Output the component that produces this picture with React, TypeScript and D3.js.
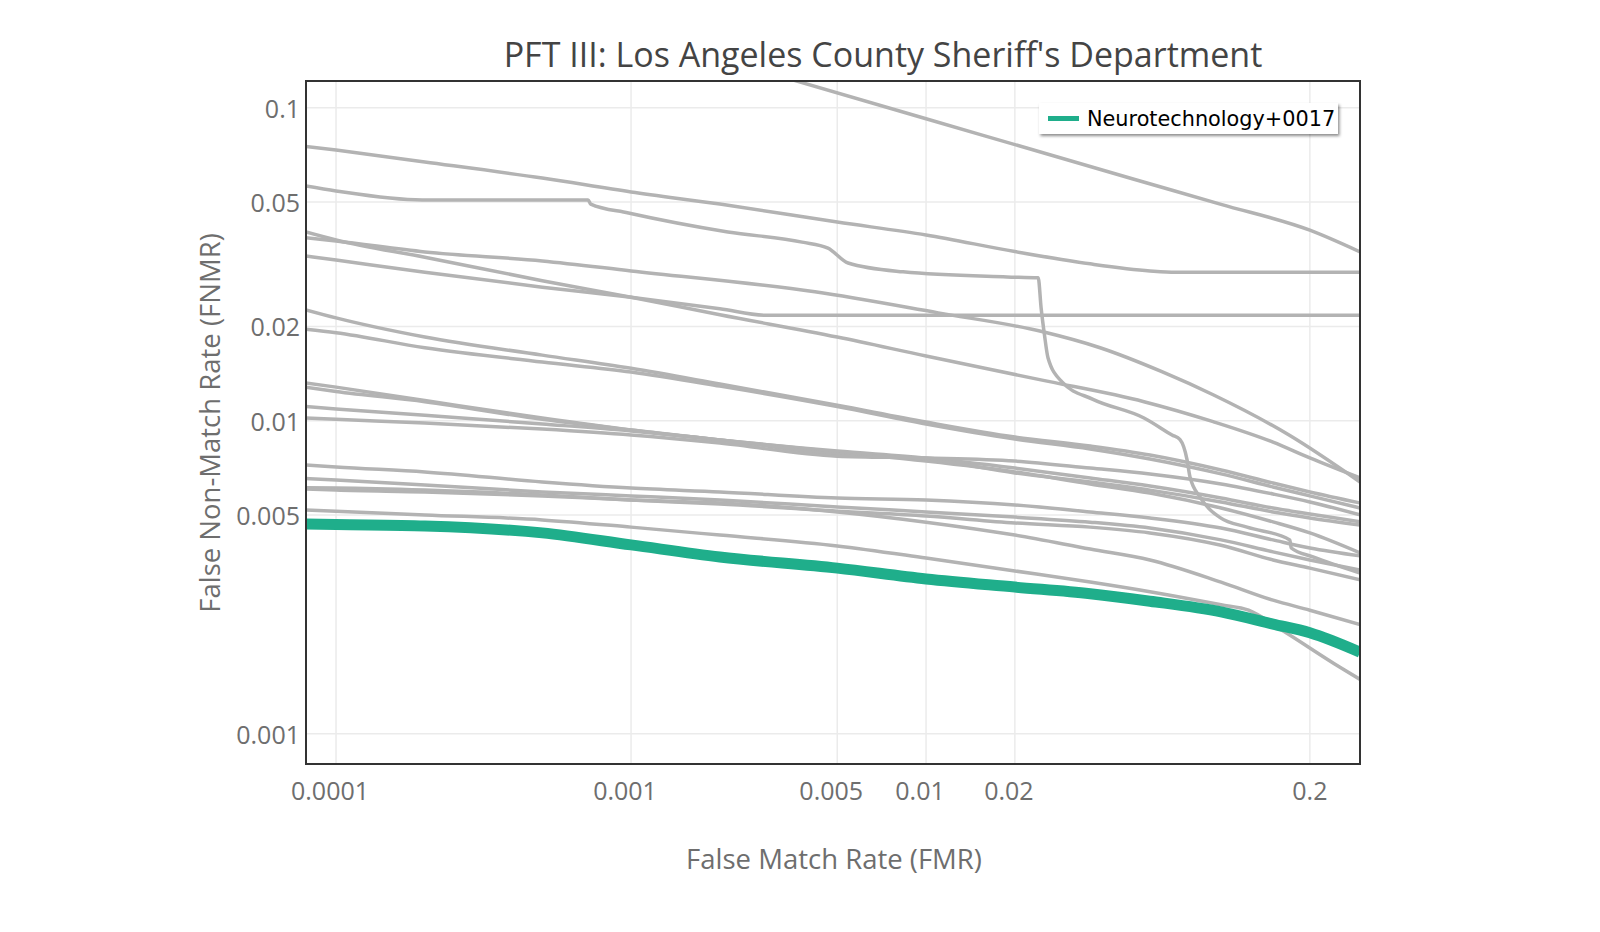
import * as d3 from "d3";

// FMR / FNMR pairs
type Pt = [number, number];

const fmrTicks = [0.0001, 0.001, 0.005, 0.01, 0.02, 0.2];
const fmrTickLabels = ["0.0001", "0.001", "0.005", "0.01", "0.02", "0.2"];
const fnmrTicks = [0.1, 0.05, 0.02, 0.01, 0.005, 0.001];
const fnmrTickLabels = ["0.1", "0.05", "0.02", "0.01", "0.005", "0.001"];

const highlightName = "Neurotechnology+0017";

const curveA: Pt[] = [[0.0035, 0.123], [0.01, 0.0922], [0.05, 0.0593], [0.1, 0.0491], [0.2, 0.0406], [0.296, 0.0346]];
const curveB: Pt[] = [[7.9e-5, 0.0752], [1e-4, 0.0732], [2e-4, 0.0671], [5e-4, 0.0596], [1e-3, 0.0538], [2e-3, 0.0492], [5e-3, 0.0431], [0.01, 0.0392], [0.02, 0.0347], [0.036, 0.0317], [0.0574, 0.0301], [0.07, 0.0298], [0.296, 0.0298]];
const curveC: Pt[] = [[7.9e-5, 0.0562], [1e-4, 0.0542], [1.96e-4, 0.0507], [7.15e-4, 0.0507], [7.3e-4, 0.0492], [9.8e-4, 0.0461], [2.13e-3, 0.0401], [3.8e-3, 0.0372], [4.65e-3, 0.0356], [5.44e-3, 0.0319], [8.36e-3, 0.0299], [0.0188, 0.0288], [0.024, 0.0286], [0.02455, 0.0229], [0.0252, 0.0188], [0.0259, 0.0159], [0.0289, 0.0133], [0.0368, 0.0117], [0.0548, 0.0102], [0.0682, 0.009], [0.0726, 0.0087], [0.0767, 0.0075], [0.0785, 0.0066], [0.0849, 0.0057], [0.0993, 0.0049], [0.1225, 0.00457], [0.171, 0.00416], [0.173, 0.00392], [0.205, 0.00367], [0.296, 0.00326]];
const curveE: Pt[] = [[7.9e-5, 0.0384], [1e-4, 0.0375], [2e-4, 0.0346], [5e-4, 0.0324], [1e-3, 0.0301], [0.0042, 0.0258], [0.011, 0.0221], [0.0245, 0.0193], [0.0389, 0.0171], [0.063, 0.01434], [0.094, 0.0121], [0.17, 0.009], [0.296, 0.00637]];
const curveF: Pt[] = [[7.9e-5, 0.0401], [1e-4, 0.0378], [2e-4, 0.0333], [5e-4, 0.028], [1e-3, 0.0248], [2e-3, 0.0218], [5e-3, 0.0185], [0.01, 0.0161], [0.0245, 0.0135], [0.0548, 0.0115], [0.094, 0.00993], [0.15, 0.00854], [0.2, 0.0076], [0.296, 0.00656]];
const curveFlat: Pt[] = [[7.9e-5, 0.0336], [1e-4, 0.0326], [2e-4, 0.0298], [5e-4, 0.0267], [1e-3, 0.0248], [2e-3, 0.0228], [0.0029, 0.0217], [0.296, 0.0217]];
const curveY1: Pt[] = [[7.9e-5, 0.0226], [1e-4, 0.0213], [2e-4, 0.0185], [5e-4, 0.0162], [1e-3, 0.0147], [2e-3, 0.0131], [5e-3, 0.0112], [0.01, 0.0099], [0.02, 0.00887], [0.036, 0.0083], [0.0574, 0.00777], [0.1, 0.00696], [0.15, 0.00632], [0.2, 0.00592], [0.296, 0.00546]];
const curveY2: Pt[] = [[7.9e-5, 0.0196], [1e-4, 0.0191], [2e-4, 0.0171], [5e-4, 0.0154], [1e-3, 0.0143], [2e-3, 0.0129], [5e-3, 0.0111], [0.01, 0.00976], [0.02, 0.00874], [0.036, 0.00812], [0.0574, 0.00754], [0.1, 0.00676], [0.15, 0.00614], [0.2, 0.00575], [0.296, 0.00526]];
const curveZ1: Pt[] = [[7.9e-5, 0.0132], [1e-4, 0.0128], [2e-4, 0.0116], [5e-4, 0.0102], [1e-3, 0.00934], [2e-3, 0.00868], [5e-3, 0.00794], [0.01, 0.00743], [0.02, 0.00686], [0.036, 0.00628], [0.0574, 0.00587], [0.1, 0.00526], [0.15, 0.00475], [0.2, 0.00438], [0.296, 0.00378]];
const curveZ2: Pt[] = [[7.9e-5, 0.0128], [1e-4, 0.0124], [2e-4, 0.0115], [5e-4, 0.0101], [1e-3, 0.00934], [2e-3, 0.00868], [5e-3, 0.008], [0.01, 0.0076], [0.02, 0.00706], [0.036, 0.00656], [0.0574, 0.00618], [0.1, 0.00566], [0.15, 0.00526], [0.2, 0.00503], [0.296, 0.00475]];
const curveZ3: Pt[] = [[7.9e-5, 0.0111], [1e-4, 0.0109], [2e-4, 0.0104], [5e-4, 0.00976], [1e-3, 0.00927], [2e-3, 0.00868], [5e-3, 0.0078], [0.01, 0.00754], [0.02, 0.00681], [0.036, 0.00637], [0.0574, 0.006], [0.1, 0.0055], [0.15, 0.00511], [0.2, 0.00489], [0.296, 0.00464]];
const curveZ4: Pt[] = [[7.9e-5, 0.0102], [1e-4, 0.0101], [2e-4, 0.00983], [5e-4, 0.0094], [1e-3, 0.009], [2e-3, 0.00848], [5e-3, 0.0077], [0.01, 0.0076], [0.02, 0.00743], [0.036, 0.00706], [0.0574, 0.00676], [0.1, 0.00628], [0.15, 0.00583], [0.2, 0.0055], [0.296, 0.005]];
const curveW1: Pt[] = [[7.9e-5, 0.00722], [1e-4, 0.00711], [2e-4, 0.00686], [5e-4, 0.00637], [1e-3, 0.00609], [2e-3, 0.00592], [5e-3, 0.00566], [0.01, 0.00558], [0.02, 0.00538], [0.036, 0.00511], [0.0574, 0.00489], [0.1, 0.00454], [0.15, 0.00416], [0.2, 0.00392], [0.296, 0.0037]];
const curveW2: Pt[] = [[7.9e-5, 0.00653], [1e-4, 0.00646], [2e-4, 0.00623], [5e-4, 0.00592], [1e-3, 0.00575], [2e-3, 0.00558], [5e-3, 0.0053], [0.01, 0.00511], [0.02, 0.00492], [0.036, 0.00474], [0.0574, 0.00454], [0.1, 0.00416], [0.15, 0.00381], [0.2, 0.00359], [0.296, 0.00333]];
const curveW3: Pt[] = [[7.9e-5, 0.0061], [1e-4, 0.00609], [2e-4, 0.006], [5e-4, 0.00579], [1e-3, 0.00558], [2e-3, 0.00542], [5e-3, 0.00514], [0.01, 0.00496], [0.02, 0.00471], [0.036, 0.00457], [0.0574, 0.00438], [0.1, 0.004], [0.15, 0.00359], [0.2, 0.00338], [0.296, 0.0031]];
const curveW4: Pt[] = [[7.9e-5, 0.00605], [1e-4, 0.006], [2e-4, 0.00592], [5e-4, 0.00575], [1e-3, 0.00558], [2e-3, 0.00546], [5e-3, 0.00511], [0.01, 0.00474], [0.02, 0.00431], [0.036, 0.00389], [0.0574, 0.00359], [0.1, 0.00305], [0.15, 0.00267], [0.2, 0.00248], [0.296, 0.00223]];
const curveV: Pt[] = [[7.9e-5, 0.00518], [1e-4, 0.00514], [2e-4, 0.005], [5e-4, 0.00482], [1e-3, 0.00457], [2e-3, 0.00431], [5e-3, 0.00398], [0.01, 0.00364], [0.02, 0.00331], [0.036, 0.00305], [0.0574, 0.00284], [0.1, 0.00258], [0.124, 0.00248], [0.161, 0.00214], [0.253, 0.00163], [0.296, 0.00149]];
const neurotech0017: Pt[] = [[7.9e-5, 0.00468], [1e-4, 0.00466], [2e-4, 0.00461], [5e-4, 0.00438], [1e-3, 0.00401], [2e-3, 0.00367], [5e-3, 0.00338], [0.01, 0.00312], [0.02, 0.00294], [0.036, 0.0028], [0.0574, 0.00265], [0.1, 0.00245], [0.15, 0.00224], [0.2, 0.0021], [0.296, 0.00182]];

const grayCurves = [curveA, curveB, curveC, curveE, curveF, curveFlat, curveY1, curveY2, curveZ1, curveZ2, curveZ3, curveZ4, curveW1, curveW2, curveW3, curveW4, curveV];

const W = 1600;
const H = 932;
const plot = { left: 306, right: 1360, top: 81, bottom: 764 };
const font = "'Open Sans', sans-serif";

export default function App() {
  const x = d3.scaleLog().domain([7.91e-5, 0.2958]).range([plot.left, plot.right]);
  const y = d3.scaleLog().domain([0.1217, 0.0008]).range([plot.top, plot.bottom]);
  const line = d3
    .line<Pt>()
    .x((d) => x(d[0]))
    .y((d) => y(d[1]))
    .curve(d3.curveMonotoneX);

  return (
    <svg
      width={W}
      height={H}
      viewBox={`0 0 ${W} ${H}`}
      style={{ position: "absolute", left: 0, top: 0, background: "#fff" }}
    >
      <defs>
        <clipPath id="plot-clip">
          <rect x={plot.left} y={plot.top} width={plot.right - plot.left} height={plot.bottom - plot.top} />
        </clipPath>
        <filter id="legend-shadow" x="-10%" y="-30%" width="120%" height="180%">
          <feDropShadow dx={1.5} dy={2} stdDeviation={1.5} floodColor="#000" floodOpacity={0.45} />
        </filter>
      </defs>

      {/* grid */}
      {fmrTicks.map((t) => (
        <line key={`gx${t}`} x1={x(t)} x2={x(t)} y1={plot.top} y2={plot.bottom} stroke="#ebebeb" strokeWidth={1.5} />
      ))}
      {fnmrTicks.map((t) => (
        <line key={`gy${t}`} x1={plot.left} x2={plot.right} y1={y(t)} y2={y(t)} stroke="#ebebeb" strokeWidth={1.5} />
      ))}

      {/* curves */}
      <g clipPath="url(#plot-clip)" fill="none" strokeLinejoin="round" strokeLinecap="round">
        {grayCurves.map((c, i) => (
          <path key={i} d={line(c) ?? ""} stroke="#b3b3b3" strokeWidth={3.5} />
        ))}
        <path d={line(neurotech0017) ?? ""} stroke="#1fae8b" strokeWidth={11} strokeLinecap="butt" />
      </g>

      {/* frame */}
      <rect
        x={plot.left}
        y={plot.top}
        width={plot.right - plot.left}
        height={plot.bottom - plot.top}
        fill="none"
        stroke="#333"
        strokeWidth={2}
      />

      {/* tick labels */}
      {fmrTicks.map((t, i) => (
        <text
          key={`tx${t}`}
          x={x(t)}
          dx={t === 0.2 ? 0 : -6}
          y={790}
          textAnchor="middle"
          dominantBaseline="central"
          style={{ fontFamily: font, fontSize: 25, fill: "#6e6e6e" }}
        >
          {fmrTickLabels[i]}
        </text>
      ))}
      {fnmrTicks.map((t, i) => (
        <text
          key={`ty${t}`}
          x={plot.left - 6}
          y={y(t)}
          textAnchor="end"
          dominantBaseline="central"
          style={{ fontFamily: font, fontSize: 25, fill: "#6e6e6e" }}
        >
          {fnmrTickLabels[i]}
        </text>
      ))}

      {/* titles */}
      <text
        x={883}
        y={54}
        textAnchor="middle"
        dominantBaseline="central"
        style={{ fontFamily: font, fontSize: 34, fill: "#444" }}
      >
        PFT III: Los Angeles County Sheriff's Department
      </text>
      <text
        x={834}
        y={858}
        textAnchor="middle"
        dominantBaseline="central"
        style={{ fontFamily: font, fontSize: 27.5, fill: "#6e6e6e" }}
      >
        False Match Rate (FMR)
      </text>
      <text
        transform={`translate(209,423) rotate(-90)`}
        textAnchor="middle"
        dominantBaseline="central"
        style={{ fontFamily: font, fontSize: 27.5, fill: "#6e6e6e" }}
      >
        False Non-Match Rate (FNMR)
      </text>

      {/* legend */}
      <g>
        <rect x={1039} y={103} width={299} height={31} fill="#fff" filter="url(#legend-shadow)" />
        <line x1={1048} x2={1079} y1={118.5} y2={118.5} stroke="#1fae8b" strokeWidth={5} />
        <text
          x={1087}
          y={118.5}
          dominantBaseline="central"
          style={{ fontFamily: "'DejaVu Sans', sans-serif", fontSize: 20.8, fill: "#000" }}
        >
          {highlightName}
        </text>
      </g>
    </svg>
  );
}
